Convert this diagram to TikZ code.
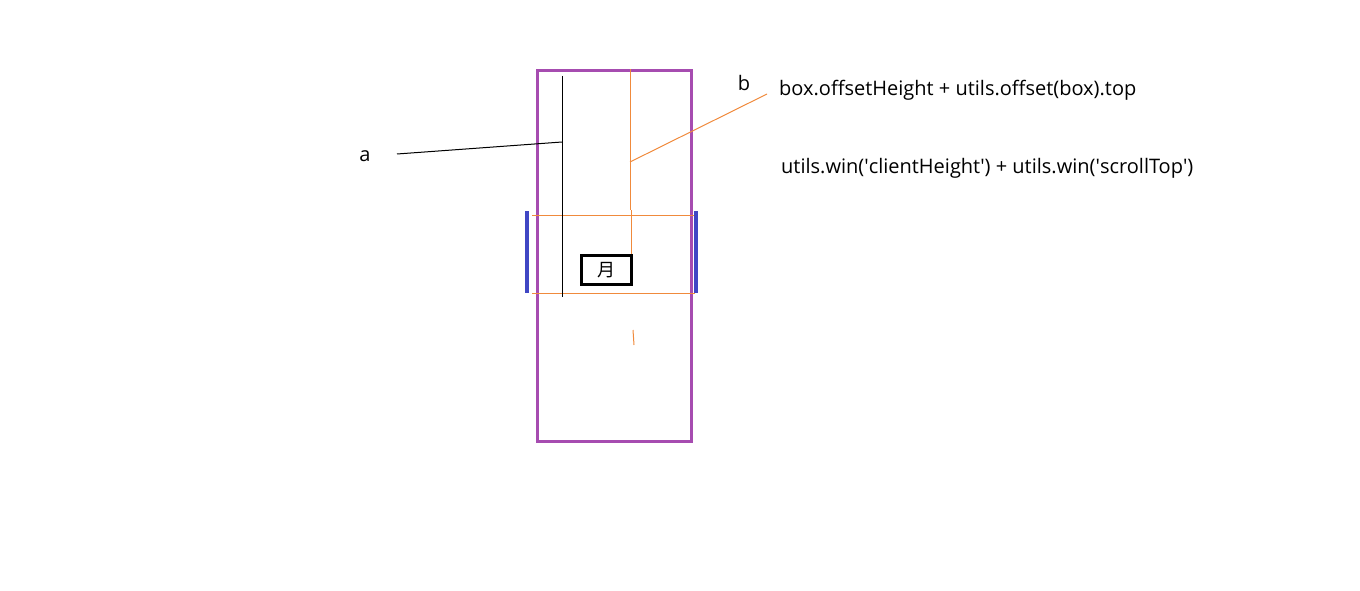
\documentclass[tikz,border=0pt]{standalone}
\usepackage{fontspec}
\setmainfont{Open Sans}
\newfontfamily\cjk{Noto Sans CJK SC}
\usepackage{tikz}
\definecolor{boxpurple}{HTML}{A64CB0}
\definecolor{lineorange}{HTML}{F08A3C}
\definecolor{barblue}{HTML}{4047C4}
\newcommand{\sq}{\textquotesingle}

\begin{document}
\begin{tikzpicture}[x=1pt, y=-1pt, every node/.style={inner sep=0pt, font=\fontsize{20}{24}\selectfont}]
	\useasboundingbox (0,0) rectangle (1360,591);

	% frame
	\draw[boxpurple, line width=3pt] (537,71) rectangle (691,441);

	% visible band
	\draw[lineorange, line width=0.8pt] (532,215) -- (695,215);
	\draw[lineorange, line width=0.8pt] (532,293) -- (695,293);
	\draw[barblue, line width=4pt] (527,211) -- (527,293);
	\draw[barblue, line width=4pt] (696,211) -- (696,293);

	% lines a and b
	\coordinate (aTop) at (562,76);
	\coordinate (aBot) at (562,297);
	\coordinate (aHit) at (562,142);
	\coordinate (bTop) at (630,69);
	\coordinate (bMid) at (630,210);
	\coordinate (bHit) at (630,162);
	\coordinate (bLow) at (631,286);
	\draw[black, line width=1pt] (aTop) -- (aBot);
	\draw[lineorange, line width=1pt] (bTop) -- (bMid);
	\draw[lineorange, line width=0.8pt] (631,210) -- (bLow);

	% element
	\node[draw, line width=3pt, minimum width=50pt, minimum height=29pt, font=\fontsize{18}{20}\selectfont] (yue) at (606.5,270) {\cjk 月};

	% labels
	\node (a) at (365,156) {a};
	\node (b) at (744,83) {b};
	\node[anchor=west] (boxTop) at (779,90) {box.offsetHeight + utils.offset(box).top};
	\node[anchor=west] (winTop) at (781,168) {utils.win(\sq clientHeight\sq) + utils.win(\sq scrollTop\sq)};
	\coordinate (aEnd) at (397,154);
	\coordinate (bEnd) at (767,94);

	\draw[black, line width=1pt] (aEnd) -- (aHit);
	\draw[lineorange, line width=1pt] (bHit) -- (bEnd);
	\draw[lineorange, line width=1pt] (633,330) -- (634,345);
\end{tikzpicture}
\end{document}
